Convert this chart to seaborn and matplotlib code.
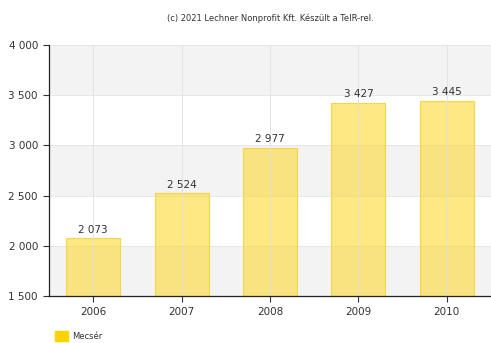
import matplotlib
matplotlib.use("Agg")
import matplotlib.pyplot as plt
import matplotlib.patches as mpatches
import seaborn as sns
import pandas as pd

# data
years  = ["2006", "2007", "2008", "2009", "2010"]
values = [2073, 2524, 2977, 3427, 3445]
yticks = [1500, 2000, 2500, 3000, 3500, 4000]
series_name = "Mecsér"

sns.set_theme(style="white")
plt.rcParams["font.family"] = ["DejaVu Sans"]


def fmt(v):
    return f"{v:,}".replace(",", " ")


df = pd.DataFrame({"year": years, "value": values})

fig = plt.figure(figsize=(4.91, 3.43), dpi=100)
ax = fig.add_axes([0.0998, 0.137, 0.9002, 0.7318])

sns.barplot(data=df, x="year", y="value", ax=ax, width=0.61,
            color="#fbd940", edgecolor="#f5d23c", linewidth=0.8,
            zorder=2)
# semi-transparent yellow bars so the grey bands show through
for p in ax.containers[0]:
    p.set_facecolor((0.99, 0.85, 0.2, 0.6))
    p.set_edgecolor((0.97, 0.83, 0.2, 0.9))

# alternating horizontal bands
for i, (lo, hi) in enumerate(zip(yticks[:-1], yticks[1:])):
    if i % 2 == 0:
        ax.axhspan(lo, hi, color="#f3f3f3", zorder=0, lw=0)
for t in yticks:
    ax.axhline(t, color="#e4e4e4", lw=0.6, zorder=0.5)

for i, v in enumerate(values):
    ax.axvline(i, color="#e0e0e0", lw=0.6, zorder=2.5)
    ax.text(i, v + 35, fmt(v), ha="center", va="bottom", fontsize=7.5,
            color="#333333", zorder=3)

ax.set_ylim(1500, 4000)
ax.set_xlim(-0.5, 4.5)
ax.set_yticks(yticks)
ax.set_yticklabels([fmt(t) for t in yticks])
ax.set_xlabel("")
ax.set_ylabel("")
ax.tick_params(axis="both", labelsize=7.5, colors="#333333", length=4,
               width=0.8, direction="out", pad=4)
ax.tick_params(axis="y", left=True)
ax.tick_params(axis="x", bottom=True)
for side in ["top", "right"]:
    ax.spines[side].set_visible(False)
for side in ["left", "bottom"]:
    ax.spines[side].set_color("#222222")
    ax.spines[side].set_linewidth(0.9)

fig.text(0.55, 0.948, "(c) 2021 Lechner Nonprofit Kft. Készült a TeIR-rel.",
         ha="center", va="center", fontsize=6, color="#333333")

fig.patches.append(mpatches.Rectangle((0.112, 0.005), 0.027, 0.03,
                                      transform=fig.transFigure,
                                      color="#ffd200", figure=fig))
fig.text(0.147, 0.018, series_name, ha="left", va="center",
         fontsize=6, color="#333333")

fig.savefig("out.png", dpi=100)
